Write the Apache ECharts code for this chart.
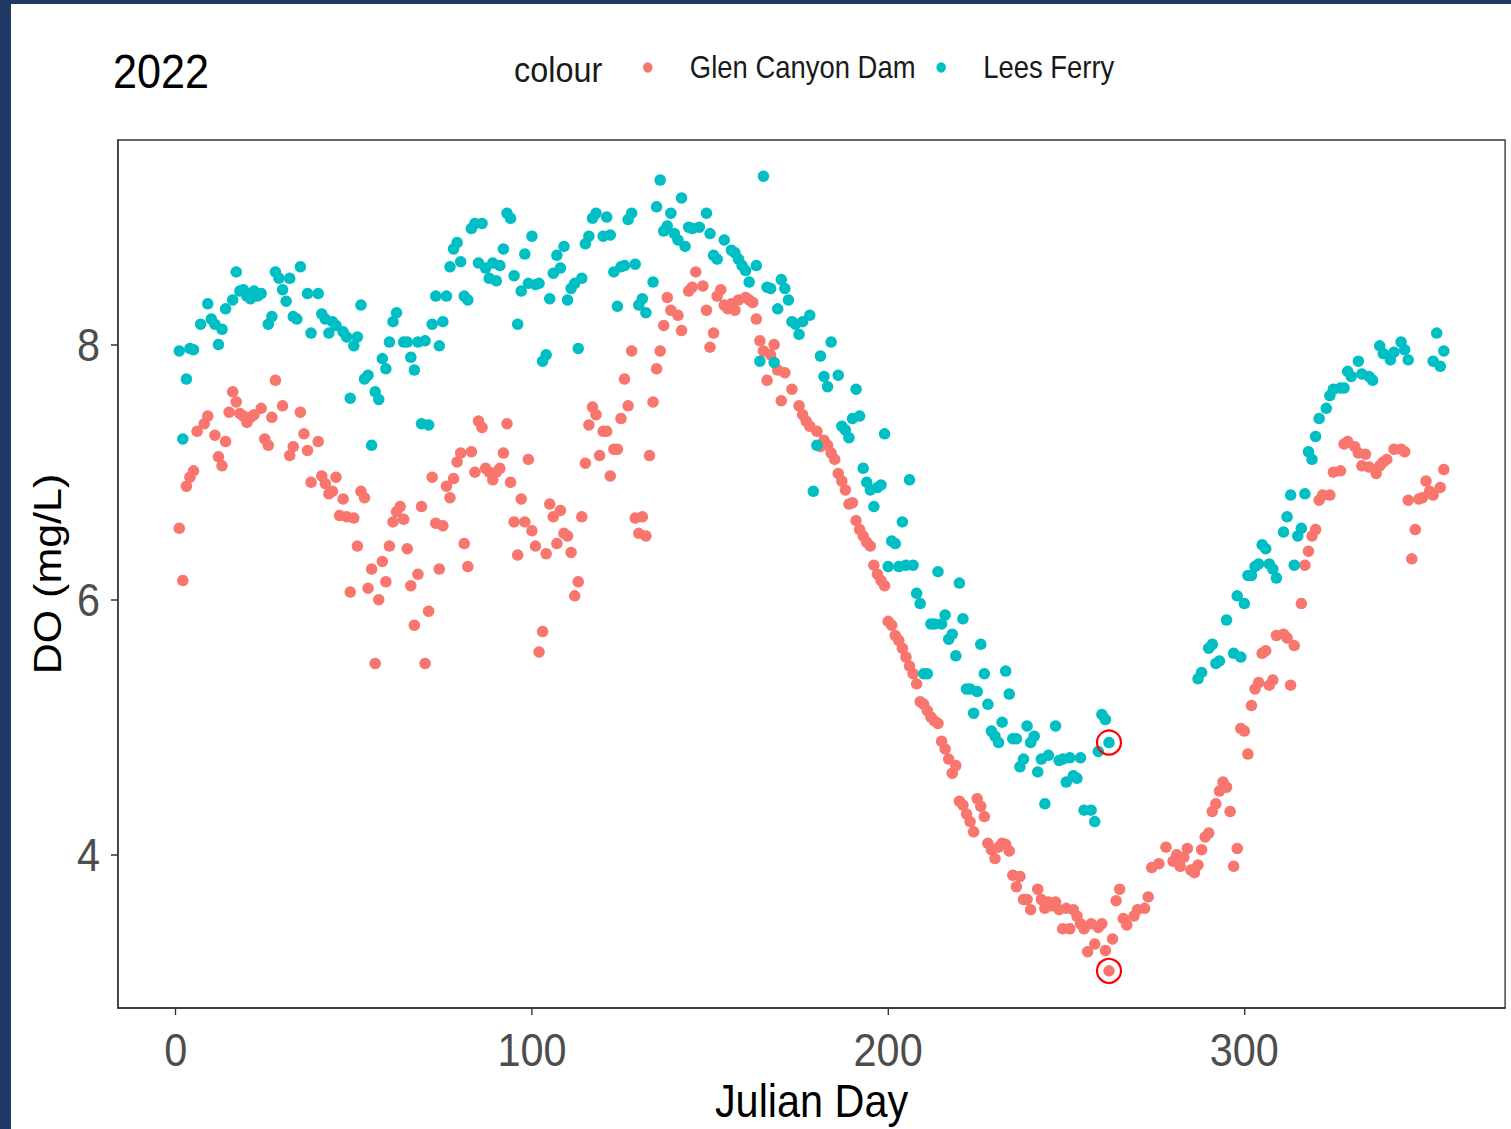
<!DOCTYPE html>
<html><head><meta charset="utf-8">
<script src="https://cdn.jsdelivr.net/npm/echarts@6/dist/echarts.min.js"></script>
<style>
html,body{margin:0;padding:0;background:#fff;overflow:hidden;width:1511px;height:1129px;}
#chart{position:absolute;left:0;top:0;width:1679px;height:1129px;transform:scaleX(0.9);transform-origin:0 0;}
.bar{position:absolute;background:#203864;}
</style></head><body>
<div id="chart"></div>
<div class="bar" style="left:0;top:0;width:11px;height:1129px"></div>
<div class="bar" style="left:0;top:0;width:1511px;height:4px"></div>
<script>
// ---- data: [Julian day, DO (mg/L)] ----
const glenCanyonDam = [
[1,6.56],[2,6.15],[3,6.89],[4,6.96],[5,7.01],[6,7.32],[8,7.38],[9,7.44],[11,7.29],[12,7.12],[13,7.05],[14,7.24],[15,7.47],[16,7.63],[17,7.55],[18,7.46],[19,7.44],[20,7.39],[21,7.43],[22,7.45],[24,7.50],[25,7.26],[26,7.21],[27,7.43],[28,7.72],[30,7.52],[32,7.13],[33,7.20],[35,7.47],[36,7.30],[37,7.17],[38,6.92],[40,7.24],[41,6.97],[42,6.91],[43,6.83],
[44,6.85],[45,6.96],[46,6.66],[47,6.79],[48,6.65],[49,6.06],[50,6.64],[51,6.42],[52,6.85],[53,6.80],[54,6.09],[55,6.24],[56,5.50],[57,6.00],[58,6.30],[59,6.14],[60,6.42],[61,6.61],[62,6.69],[63,6.73],[64,6.63],[65,6.40],[66,6.11],[67,5.80],[68,6.20],[69,6.73],[70,5.50],[71,5.91],[72,6.96],[73,6.60],[74,6.24],[75,6.58],[76,6.89],[77,6.80],[78,6.95],[79,7.08],[80,7.15],[81,6.44],[82,6.26],[83,7.16],[84,7.00],[85,7.40],[86,7.35],[87,7.03],[88,7.00],[89,6.94],
[90,7.00],[91,7.03],[92,7.15],[93,7.38],[94,6.92],[95,6.61],[96,6.35],[97,6.79],[98,6.61],[99,7.10],[100,6.54],[101,6.42],[102,5.59],[103,5.75],[104,6.36],[105,6.75],[106,6.65],[107,6.44],[108,6.70],[109,6.52],[110,6.50],[111,6.37],[112,6.03],[113,6.14],[114,6.65],[115,7.07],[116,7.37],[117,7.51],[118,7.45],[119,7.13],[120,7.32],[121,7.32],[122,6.97],[123,7.18],[124,7.18],[125,7.42],[126,7.73],[127,7.52],[128,7.95],[129,6.64],[130,6.52],[131,6.65],[132,6.50],[133,7.13],[134,7.55],[135,7.81],[136,7.95],[137,8.15],[138,8.37],[139,8.27],
[141,8.23],[142,8.11],[144,8.42],[145,8.45],[146,8.57],[148,8.46],[149,8.27],[150,7.98],[151,8.09],[152,8.38],[153,8.43],[154,8.31],[155,8.28],[156,8.32],[157,8.27],[158,8.35],[160,8.37],[161,8.35],[162,8.33],[163,8.20],[164,8.03],[165,7.95],[166,7.72],[167,7.92],[168,8.00],[169,7.80],[170,7.56],[171,7.78],[173,7.65],[175,7.52],[176,7.45],[177,7.40],[178,7.36],[180,7.32],[181,7.20],[182,7.25],
[183,7.21],[184,7.15],[185,7.10],[186,6.99],[187,6.93],[188,6.86],[189,6.75],[190,6.76],[191,6.62],[192,6.55],[193,6.50],[194,6.45],[195,6.42],[196,6.27],[197,6.20],[198,6.15],[199,6.11],[200,5.83],[201,5.80],[202,5.72],[203,5.68],[204,5.62],[205,5.55],[206,5.48],[207,5.42],[208,5.34],[209,5.20],[210,5.18],[211,5.13],[212,5.08],[213,5.05],[214,5.03],[215,4.89],[216,4.83],[217,4.75],[218,4.64],[219,4.70],[220,4.42],[221,4.39],[222,4.32],[223,4.26],[224,4.18],[225,4.44],[226,4.38],[227,4.30],[228,4.09],[229,4.04],[230,3.97],
[231,4.06],[232,4.09],[233,4.08],[234,4.03],[235,3.84],[236,3.75],[237,3.83],[238,3.65],[239,3.65],[240,3.57],[242,3.73],[243,3.65],[244,3.58],[245,3.63],[246,3.60],[247,3.63],[248,3.57],[249,3.42],[250,3.58],[251,3.42],[252,3.57],[253,3.52],[254,3.46],[255,3.42],[256,3.24],[257,3.46],[258,3.30],[259,3.43],[260,3.46],[261,3.25],[262,3.09],[263,3.34],[264,3.64],[265,3.73],[266,3.50],[267,3.45],[269,3.52],[270,3.57],[272,3.58],[273,3.67],[274,3.90],[276,3.93],[278,4.06],[280,3.95],
[281,4.00],[282,3.91],[283,3.98],[284,4.05],[285,3.88],[286,3.86],[287,3.92],[288,4.04],[289,4.14],[290,4.17],[291,4.34],[292,4.40],[293,4.50],[294,4.57],[295,4.53],[296,4.34],[297,3.91],[298,4.05],[299,4.99],[300,4.97],[301,4.79],[302,5.17],[303,5.30],[304,5.35],[305,5.58],[306,5.60],[307,5.33],[308,5.37],[309,5.72],[311,5.73],[312,5.70],[313,5.33],[314,5.64],[316,5.97],[317,6.27],[318,6.38],[319,6.50],[320,6.55],
[321,6.78],[322,6.82],[324,6.82],[325,7.00],[327,7.01],[328,7.22],[329,7.24],[331,7.20],[332,7.15],[333,7.05],[334,7.14],[335,7.04],[337,6.99],[338,7.05],[339,7.08],[340,7.10],[342,7.18],[344,7.18],[345,7.16],[346,6.78],[347,6.32],[348,6.55],[349,6.79],[350,6.80],[351,6.93],[352,6.85],[353,6.82],[355,6.88],[356,7.02]
];
const leesFerry = [
[1,7.95],[2,7.26],[3,7.73],[4,7.97],[5,7.96],[7,8.16],[9,8.32],[10,8.20],[11,8.16],[12,8.00],[13,8.12],[14,8.28],[16,8.35],[17,8.57],[18,8.42],[19,8.43],[20,8.38],[21,8.36],[22,8.42],[23,8.38],[24,8.40],[26,8.16],[27,8.22],[28,8.57],[29,8.52],[30,8.43],[31,8.34],[32,8.52],[33,8.22],[34,8.20],[35,8.61],[37,8.40],[38,8.09],[40,8.40],[41,8.24],[42,8.20],[43,8.09],
[44,8.18],[45,8.15],[47,8.10],[48,8.06],[49,7.58],[50,7.99],[51,8.06],[52,8.31],[53,7.73],[54,7.76],[55,7.21],[56,7.63],[57,7.57],[58,7.89],[59,7.81],[60,8.02],[61,8.18],[62,8.25],[64,8.02],[65,8.02],[66,7.90],[67,7.80],[68,8.02],[69,7.38],[70,8.03],[71,7.37],[72,8.16],[73,8.38],[74,7.99],[75,8.18],[76,8.38],[77,8.61],[78,8.75],[79,8.80],[80,8.65],[81,8.38],[82,8.35],[83,8.91],[84,8.95],[85,8.64],[86,8.95],[87,8.60],[88,8.52],[89,8.64],
[90,8.50],[91,8.62],[92,8.75],[93,9.03],[94,8.99],[95,8.54],[96,8.16],[97,8.42],[98,8.71],[99,8.48],[100,8.85],[101,8.47],[102,8.48],[103,7.87],[104,7.92],[105,8.36],[106,8.56],[107,8.70],[108,8.60],[109,8.77],[110,8.35],[111,8.44],[112,8.48],[113,7.97],[114,8.52],[115,8.79],[116,8.85],[117,8.99],[118,9.03],[120,8.85],[121,9.00],[122,8.86],[123,8.57],[124,8.30],[125,8.61],[126,8.62],[127,8.98],[128,9.03],[129,8.63],[130,8.31],[131,8.36],[132,8.25],[134,8.49],[135,9.08],[136,9.29],
[137,8.89],[138,8.93],[139,9.03],[140,8.87],[141,8.82],[142,9.15],[143,8.77],[144,8.92],[145,8.91],[147,8.92],[149,9.03],[150,8.87],[151,8.70],[152,8.67],[154,8.82],[156,8.74],[157,8.72],[158,8.67],[159,8.62],[160,8.58],[161,8.49],[163,8.62],[164,7.87],[165,9.32],[166,8.45],[167,8.44],[168,7.86],[169,8.28],[170,8.51],[171,8.44],[172,8.35],[173,8.18],[174,8.16],[175,8.08],[176,8.18],[178,8.23],[179,6.85],[180,7.21],
[181,7.91],[182,7.75],[183,7.67],[184,8.02],[186,7.76],[187,7.36],[188,7.33],[189,7.27],[190,7.42],[191,7.65],[192,7.44],[193,7.03],[194,6.92],[195,6.86],[196,6.73],[197,6.88],[198,6.90],[199,7.30],[200,6.26],[201,6.46],[202,6.44],[203,6.26],[204,6.61],[205,6.27],[206,6.94],[207,6.27],[208,6.05],[209,5.97],[210,5.42],[211,5.42],[212,5.81],[213,5.81],[214,6.22],[215,5.81],[216,5.88],[217,5.69],[218,5.73],[219,5.56],[220,6.13],
[221,5.85],[222,5.30],[223,5.30],[224,5.11],[225,5.28],[226,5.65],[227,5.42],[228,5.18],[229,4.97],[230,4.93],[231,4.88],[232,5.04],[233,5.44],[234,5.26],[235,4.91],[236,4.91],[237,4.69],[238,4.75],[239,5.01],[240,4.88],[241,4.93],[242,4.65],[243,4.75],[244,4.40],[245,4.78],[247,5.01],[248,4.74],[249,4.75],[250,4.57],[251,4.76],[252,4.62],[253,4.60],[254,4.76],[255,4.35],[257,4.35],[258,4.26],[259,4.81],[260,5.10],[261,5.06],[262,4.88],
[287,5.38],[288,5.43],[290,5.62],[291,5.65],[292,5.50],[293,5.52],[295,5.84],[297,5.58],[298,6.03],[299,5.55],[300,5.97],[301,6.19],[302,6.19],[303,6.26],[304,6.28],[305,6.43],[306,6.40],[307,6.28],[308,6.24],[309,6.17],[311,6.53],[312,6.65],[313,6.82],[314,6.27],[315,6.50],[316,6.56],[317,6.83],[318,7.16],[319,7.10],[320,7.28],
[321,7.42],[323,7.50],[324,7.60],[325,7.65],[327,7.66],[328,7.66],[329,7.79],[330,7.75],[332,7.87],[333,7.77],[335,7.75],[336,7.72],[338,7.99],[339,7.93],[341,7.88],[342,7.94],[344,8.02],[345,7.96],[346,7.88],[353,7.87],[354,8.09],[355,7.83],[356,7.95]
];
const circledPoints = [[262,4.88],[262,3.09]];
const xTicks = [0, 100, 200, 300];
const yTicks = [4, 6, 8];
const seriesNames = ['Glen Canyon Dam', 'Lees Ferry'];

// The reference is horizontally compressed (narrow type); the chart is laid out
// in a wider box and the container is scaled by SX via CSS.
const SX = 0.9;
const FONT = "'Liberation Sans',Arial,sans-serif";
const chart = echarts.init(document.getElementById('chart'), null, {renderer:'svg'});
const legendBase = {
  orient:'horizontal', itemWidth:83.4, itemHeight:10.5, icon:'circle', padding:0,
  selectedMode:false, textStyle:{fontSize:30.5, color:'#1a1a1a', fontFamily:FONT}
};
chart.setOption({
  animation:false,
  backgroundColor:'#ffffff',
  graphic:[
    {type:'text', x:113/SX, y:72, style:{text:'2022', font:'48px '+FONT, fill:'#000', verticalAlign:'middle'}},
    {type:'text', x:514/SX, y:69, style:{text:'colour', font:'36px '+FONT, fill:'#1a1a1a', verticalAlign:'middle'}}
  ],
  legend:[
    Object.assign({}, legendBase, {data:[seriesNames[0]], left:714.5, top:52}),
    Object.assign({}, legendBase, {data:[seriesNames[1]], left:1040.5, top:52})
  ],
  grid:{left:118/SX, right:6/SX, top:140, bottom:117, show:true, borderColor:'#333', borderWidth:1.5, backgroundColor:'rgba(0,0,0,0)'},
  xAxis:{
    type:'value', min:-16.2, max:373.2,
    name:'Julian Day', nameLocation:'middle', nameGap:65,
    nameTextStyle:{fontSize:46, color:'#000', fontFamily:FONT},
    axisLine:{show:true, onZero:false, lineStyle:{color:'#333', width:1.5}},
    axisTick:{show:true, length:7, customValues:xTicks, lineStyle:{color:'#333', width:1.5}},
    axisLabel:{customValues:xTicks, fontSize:46, color:'#4d4d4d', fontFamily:FONT, margin:19},
    splitLine:{show:false}
  },
  yAxis:{
    type:'value', min:2.798, max:9.604,
    name:'DO (mg/L)', nameLocation:'middle', nameGap:48, nameRotate:90,
    nameTextStyle:{fontSize:43, color:'#000', fontFamily:FONT},
    axisLine:{show:true, onZero:false, lineStyle:{color:'#333', width:1.5}},
    axisTick:{show:true, length:7/SX, customValues:yTicks, lineStyle:{color:'#333', width:1.5}},
    axisLabel:{customValues:yTicks, fontSize:46, color:'#4d4d4d', fontFamily:FONT, margin:20},
    splitLine:{show:false}
  },
  series:[
    {name:seriesNames[0], type:'scatter', data:glenCanyonDam, symbolSize:[11.5/SX, 11.5], itemStyle:{color:'#F8766D', opacity:1}, emphasis:{disabled:true}, z:2},
    {name:seriesNames[1], type:'scatter', data:leesFerry, symbolSize:[11.5/SX, 11.5], itemStyle:{color:'#00BFC4', opacity:1}, emphasis:{disabled:true}, z:3},
    {name:'circled', type:'scatter', data:circledPoints, symbolSize:[24/SX, 24], silent:true,
     itemStyle:{color:'rgba(0,0,0,0)', opacity:1, borderColor:'#ff0000', borderWidth:2.3}, z:4}
  ]
});
</script>
</body></html>
